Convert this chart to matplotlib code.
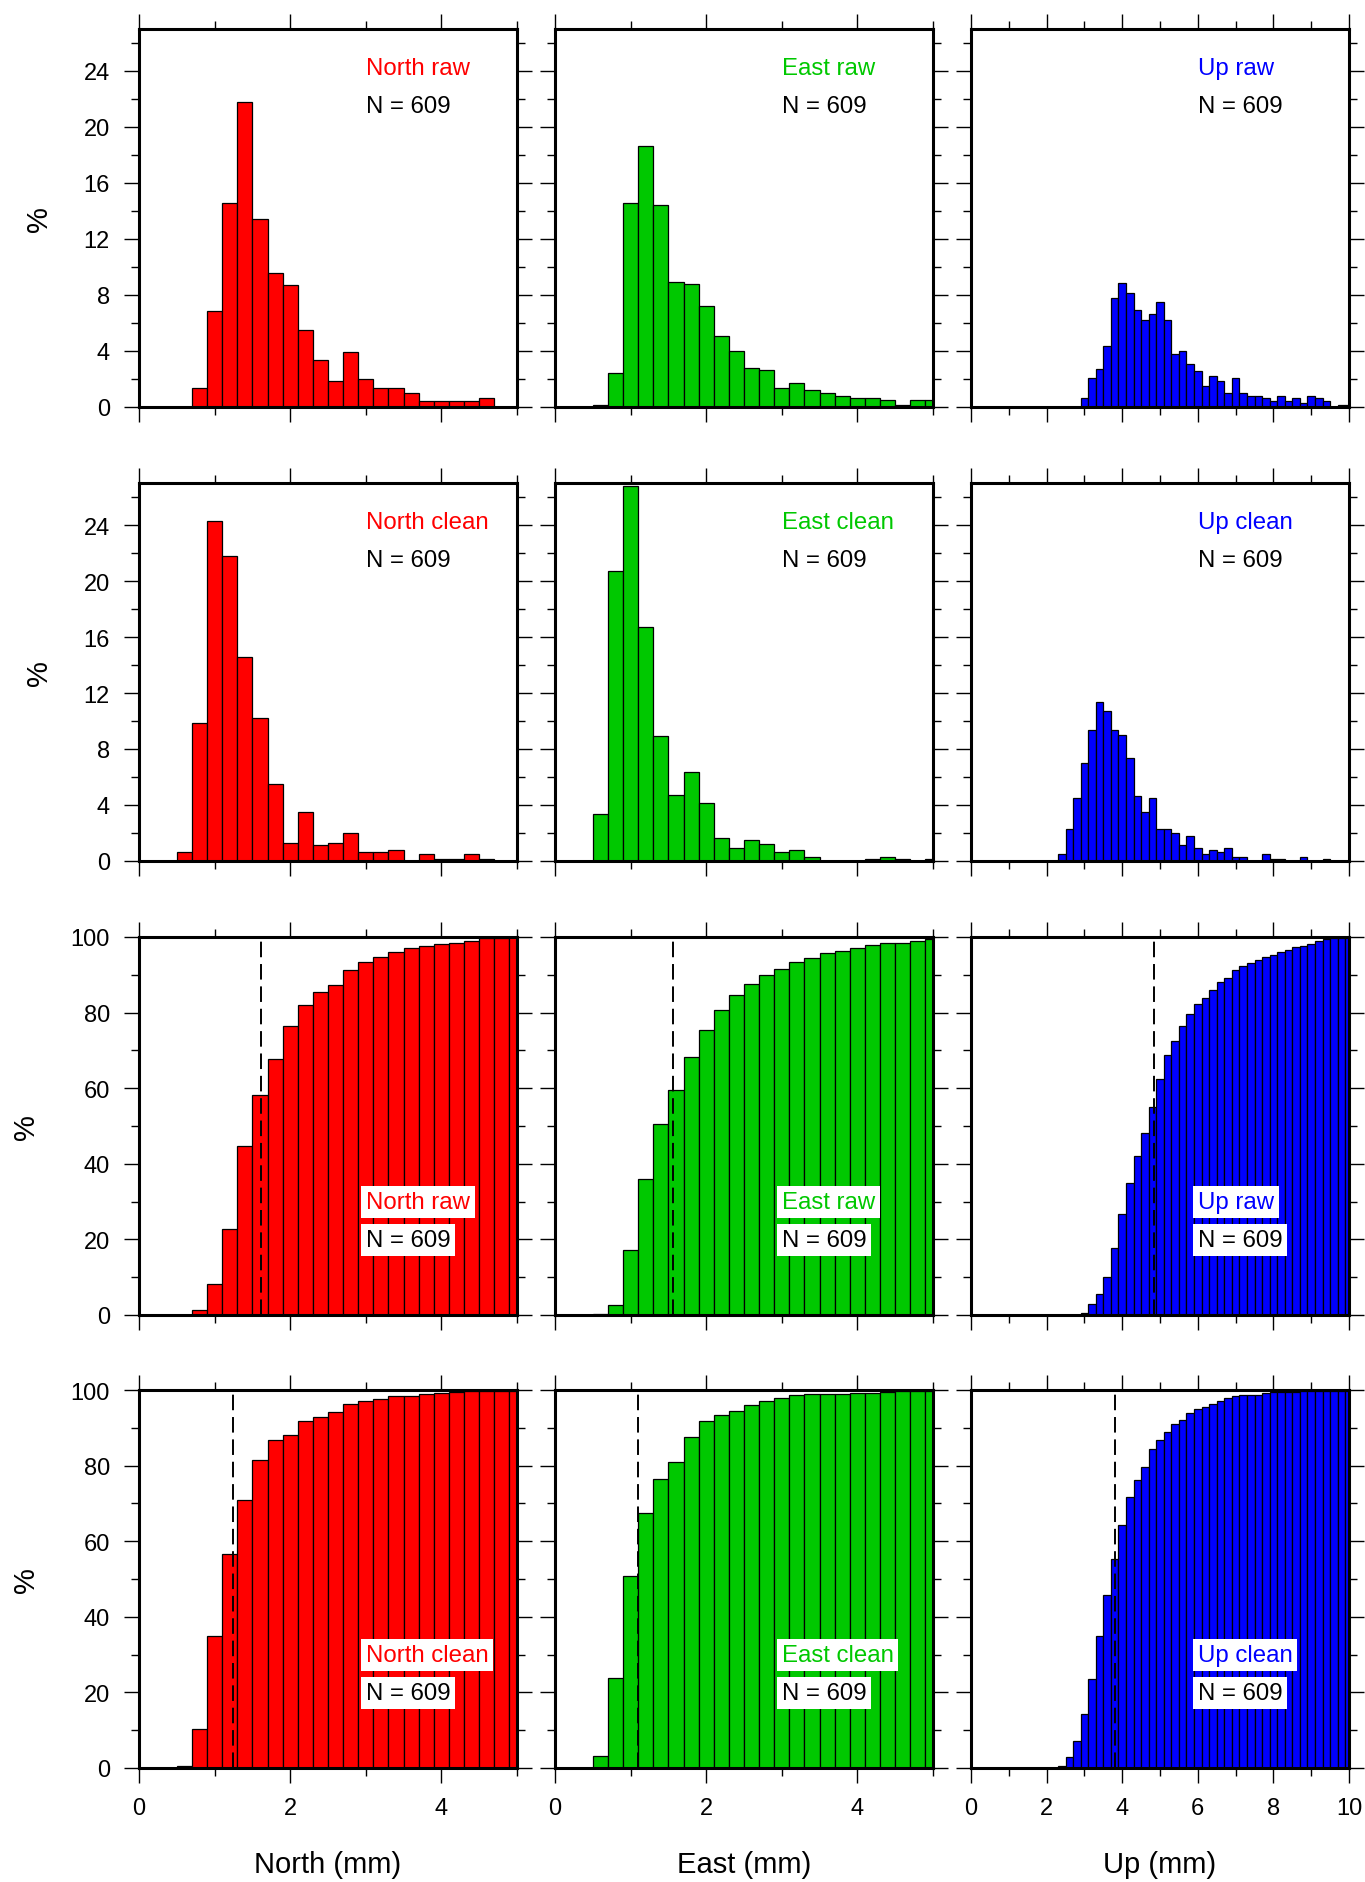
import numpy as np
import matplotlib
matplotlib.use("Agg")
import matplotlib.pyplot as plt
from matplotlib.ticker import MultipleLocator

plt.rcParams['font.family'] = ['Liberation Sans', 'DejaVu Sans']

bin_w = 0.2
n_obs = 609

# histograms (% per 0.2 mm bin), first bin left edge in *_start
north_raw_start = 0.7
north_raw = [1.33, 6.87, 14.6, 21.8, 13.4, 9.58, 8.72, 5.49, 3.37, 1.83, 3.94, 2.02,
             1.33, 1.33, 1.02, 0.45, 0.45, 0.45, 0.45, 0.66]
north_clean_start = 0.5
north_clean = [0.67, 9.89, 24.29, 21.8, 14.57, 10.2, 5.51, 1.31, 3.49, 1.16, 1.31, 1.97,
               0.67, 0.67, 0.81, 0, 0.48, 0.17, 0.17, 0.48, 0.17]
east_raw_start = 0.5
east_raw = [0.12, 2.42, 14.6, 18.65, 14.4, 8.91, 8.79, 7.22, 5.09, 4.02, 2.78, 2.61,
            1.38, 1.73, 1.19, 1.02, 0.81, 0.67, 0.67, 0.5, 0.12, 0.5, 0.5]
east_clean_start = 0.5
east_clean = [3.37, 20.72, 26.8, 16.68, 8.91, 4.68, 6.37, 4.16, 1.66, 0.95, 1.47, 1.19,
              0.67, 0.81, 0.31, 0, 0, 0, 0.17, 0.31, 0.17, 0, 0.17]
up_raw_start = 2.9
up_raw = [0.67, 2.07, 2.73, 4.33, 7.79, 8.86, 8.17, 6.94, 6.25, 6.63, 7.49, 6.25,
          3.78, 3.97, 3.09, 2.57, 1.50, 2.23, 1.88, 1.02, 2.04, 1.02, 0.81, 0.81,
          0.64, 0.45, 0.81, 0.45, 0.64, 0.31, 0.81, 0.64, 0.45, 0, 0.16, 0.16]
up_clean_start = 2.3
up_clean = [0.48, 2.31, 4.52, 7.01, 9.36, 11.38, 10.69, 9.36, 8.98, 7.37, 4.66, 3.49,
            4.52, 2.31, 2.31, 1.97, 1.16, 1.81, 0.95, 0.48, 0.81, 0.67, 0.95, 0.31,
            0.31, 0, 0, 0.48, 0.17, 0.17, 0, 0, 0.31, 0, 0, 0.17]

# cumulative (%)
north_raw_cum = [1.41, 8.29, 22.8, 44.7, 58.1, 67.8, 76.5, 81.9, 85.4, 87.2, 91.4, 93.3,
                 94.6, 96.0, 97.0, 97.5, 98.1, 98.5, 99.0, 99.8, 99.8, 100]
north_clean_cum = [0.53, 10.4, 34.9, 56.6, 71.0, 81.5, 86.8, 88.2, 91.8, 92.9, 94.3, 96.3,
                   97.0, 97.6, 98.5, 98.5, 99.0, 99.2, 99.5, 99.7, 99.8, 99.8, 99.8]
east_raw_cum = [0.16, 2.73, 17.3, 35.9, 50.4, 59.4, 68.3, 75.5, 80.6, 84.7, 87.5, 90.0,
                91.5, 93.3, 94.4, 95.7, 96.4, 97.1, 97.9, 98.3, 98.5, 98.9, 99.5]
east_clean_cum = [3.27, 23.9, 50.75, 67.5, 76.4, 81.0, 87.6, 91.8, 93.5, 94.4, 96.0, 97.2,
                  97.9, 98.7, 99.0, 99.0, 99.0, 99.1, 99.2, 99.5, 99.7, 99.7, 99.8]
up_raw_cum = [0.62, 2.83, 5.65, 9.98, 17.8, 26.8, 35.0, 42.0, 48.1, 54.9, 62.4, 68.7,
              72.6, 76.5, 79.7, 82.2, 83.9, 86.1, 88.1, 89.2, 91.2, 92.3, 93.1, 93.9,
              94.7, 95.3, 96.1, 96.6, 97.3, 97.6, 98.2, 98.9, 99.6, 99.8, 99.8, 99.8]
up_clean_cum = [0.44, 2.82, 7.24, 14.3, 23.65, 34.95, 45.8, 55.2, 64.2, 71.7, 76.2, 79.7,
                84.3, 86.7, 88.9, 90.9, 92.0, 93.9, 94.9, 95.4, 96.4, 97.0, 97.9, 98.5,
                98.6, 98.6, 98.6, 99.3, 99.5, 99.5, 99.5, 99.5, 99.8, 99.8, 99.8, 99.8,
                99.8, 99.8, 99.8]

# dashed reference value on the cumulative plots (mm)
north_mark = [1.61, 1.24]
east_mark = [1.56, 1.10]
up_mark = [4.85, 3.82]

comps = ['North', 'East', 'Up']
colors = ['#ff0000', '#00c800', '#0000ff']
xmax = [5, 5, 10]
hists = [[(north_raw_start, north_raw), (north_clean_start, north_clean)],
         [(east_raw_start, east_raw), (east_clean_start, east_clean)],
         [(up_raw_start, up_raw), (up_clean_start, up_clean)]]
cums = [[north_raw_cum, north_clean_cum], [east_raw_cum, east_clean_cum],
        [up_raw_cum, up_clean_cum]]
marks = [north_mark, east_mark, up_mark]
kinds = ['raw', 'clean']

W, H = 1365, 1883
fig = plt.figure(figsize=(W / 100, H / 100), dpi=100)
col_left = [139, 555, 971]
row_top = [30, 484, 938, 1391]
size = 378

for c in range(3):
    for r in range(4):
        ax = fig.add_axes([col_left[c] / W, 1 - (row_top[r] + size) / H, size / W, size / H])
        k = r % 2
        start, vals = hists[c][k]
        if r < 2:
            vals = np.array(vals)
        else:
            vals = np.array(cums[c][k])
        x = start + bin_w * np.arange(len(vals))
        ax.bar(x, vals, width=bin_w, align='edge', color=colors[c],
               edgecolor='black', linewidth=0.9, zorder=2)
        ax.set_xlim(0, xmax[c])
        ax.xaxis.set_major_locator(MultipleLocator(2))
        ax.xaxis.set_minor_locator(MultipleLocator(1))
        if r < 2:
            ax.set_ylim(0, 27)
            ax.yaxis.set_major_locator(MultipleLocator(4))
            ax.yaxis.set_minor_locator(MultipleLocator(2))
            ty1, ty2, box = 0.896, 0.797, None
        else:
            ax.set_ylim(0, 100)
            ax.yaxis.set_major_locator(MultipleLocator(20))
            ax.yaxis.set_minor_locator(MultipleLocator(10))
            ax.axvline(marks[c][k], color='black', lw=1.4, ls=(0, (8, 3.5)), zorder=3)
            ty1, ty2 = 0.299, 0.198
            box = dict(facecolor='white', edgecolor='none', boxstyle='square,pad=0.2')
        ax.text(0.60, ty1, f'{comps[c]} {kinds[k]}', transform=ax.transAxes,
                color=colors[c], fontsize=17.3, va='center', ha='left', bbox=box, zorder=4)
        ax.text(0.60, ty2, f'N = {n_obs}', transform=ax.transAxes,
                color='black', fontsize=17.3, va='center', ha='left', bbox=box, zorder=4)
        for sp in ax.spines.values():
            sp.set_linewidth(2.2)
            sp.set_zorder(5)
        ax.tick_params(which='both', direction='out', top=True, right=True,
                       labeltop=False, labelright=False, labelsize=17, width=1.0, pad=10)
        ax.tick_params(which='major', length=11)
        ax.tick_params(which='minor', length=5.5)
        if c > 0:
            ax.tick_params(labelleft=False)
        else:
            ax.set_ylabel('%', fontsize=21, labelpad=22)
        if r < 3:
            ax.tick_params(labelbottom=False)
        else:
            ax.set_xlabel(f'{comps[c]} (mm)', fontsize=21, labelpad=22)

fig.savefig('out.png', dpi=100)
